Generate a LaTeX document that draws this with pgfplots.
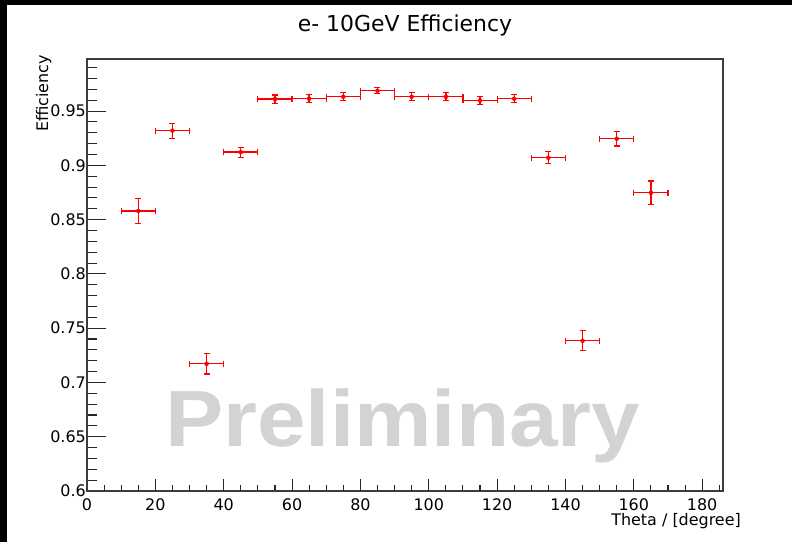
\documentclass[border=0pt]{standalone}
\usepackage{pgfplots}
\pgfplotsset{compat=1.18}
\usepackage{pgfplotstable}
\usepackage{fontspec}
\setmainfont{DejaVu Sans}
\newfontfamily\wmfont{Liberation Sans}
\definecolor{wmgrey}{RGB}{211,211,211}
\definecolor{frame}{RGB}{60,60,60}

% theta bin centre, efficiency, half bin width, statistical error
\pgfplotstableread{
theta eff    ex ey
15    0.858  5  0.0114
25    0.932  5  0.0069
35    0.7172 5  0.0095
45    0.9122 5  0.0046
55    0.9611 5  0.0038
65    0.9614 5  0.0038
75    0.9632 5  0.0036
85    0.9687 5  0.0028
95    0.9632 5  0.0038
105   0.9632 5  0.0036
115   0.9598 5  0.0038
125   0.9614 5  0.0038
135   0.907  5  0.0056
145   0.7384 5  0.0092
155   0.9245 5  0.0066
165   0.8748 5  0.0107
}\efftable

\begin{document}
\begin{tikzpicture}[x=1bp,y=1bp]
% canvas
\fill[white] (0,0) rectangle (792,542);
\fill[black] (0,0) rectangle (7,542);
\fill[black] (0,537) rectangle (792,542);
\path[use as bounding box] (0,0) rectangle (792,542);

% watermark
\node[anchor=base west, inner sep=0pt, text=wmgrey, xscale=1.094,
      font=\wmfont\bfseries\fontsize{80}{80}\selectfont] at (165,95) {Preliminary};

% title and axis titles
\node[anchor=base, inner sep=0pt, font=\fontsize{22}{22}\selectfont] at (405,510) {e- 10GeV Efficiency};
\node[anchor=base east, rotate=90, inner sep=0pt, font=\fontsize{16}{16}\selectfont] at (48,487) {Efficiency};
\node[anchor=base east, inner sep=0pt, font=\fontsize{16}{16}\selectfont] at (741,16) {Theta / [degree]};

% y ticks (longer tick marks than on x)
\begin{axis}[at={(87bp,51bp)}, anchor=south west, scale only axis,
  width=636bp, height=432bp,
  xmin=0, xmax=186.1, ymin=0.6, ymax=0.998,
  axis line style={draw=none},
  xtick=\empty,
  ytick={0.6,0.65,0.7,0.75,0.8,0.85,0.9,0.95},
  minor ytick={0.61,0.62,0.63,0.64,0.66,0.67,0.68,0.69,0.71,0.72,0.73,0.74,
               0.76,0.77,0.78,0.79,0.81,0.82,0.83,0.84,0.86,0.87,0.88,0.89,
               0.91,0.92,0.93,0.94,0.96,0.97,0.98,0.99},
  ytick pos=left, tick align=inside,
  major tick length=19bp, minor tick length=10bp,
  tick style={black!85, line width=1.1bp},
  yticklabel style={font=\fontsize{16}{16}\selectfont, anchor=east, inner sep=0pt, xshift=-1bp},
  /pgf/number format/.cd, fixed, precision=2, assume math mode=true,
]
\end{axis}

% frame, x ticks and data
\begin{axis}[at={(87bp,51bp)}, anchor=south west, scale only axis,
  width=636bp, height=432bp,
  xmin=0, xmax=186.1, ymin=0.6, ymax=0.998,
  axis line style={frame, line width=1.3bp},
  xtick={0,20,40,60,80,100,120,140,160,180},
  minor xtick={5,10,15,25,30,35,45,50,55,65,70,75,85,90,95,105,110,115,
               125,130,135,145,150,155,165,170,175,185},
  ytick=\empty,
  xtick pos=bottom, tick align=inside,
  major tick length=12bp, minor tick length=6bp,
  tick style={black!85, line width=1.1bp},
  xticklabel style={font=\fontsize{16}{16}\selectfont, anchor=north, inner sep=0pt, yshift=-7bp},
  /pgf/number format/assume math mode=true,
  clip=false,
]
\addplot[red, only marks, mark=none,
  error bars/.cd,
    x dir=both, x explicit, y dir=both, y explicit,
    error bar style={red, line width=1.4bp},
    error mark=-,
    error mark options={rotate=90, red, line width=1.2bp, mark size=3bp},
] table[x=theta, y=eff, x error=ex, y error=ey] {\efftable};
\end{axis}
\end{tikzpicture}
\end{document}
